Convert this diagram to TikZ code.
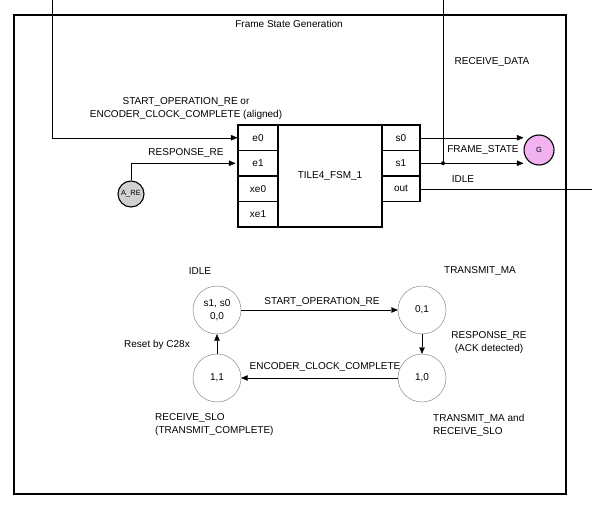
\documentclass[tikz,border=0pt]{standalone}
\usepackage{fontspec}
\setmainfont{Liberation Sans}
\usetikzlibrary{arrows.meta}

\begin{document}
\begin{tikzpicture}[x=1pt,y=-1pt,
  every node/.style={font=\fontsize{10}{13}\selectfont, inner sep=0pt},
  port/.style={draw, line width=1.1pt, minimum width=40pt, minimum height=25.5pt},
  state/.style={circle, draw=black!55, minimum size=48pt, align=center},
  sig/.style={circle, line width=1.1pt, draw, minimum size=#1, font=\fontsize{7.5}{8}\selectfont},
  arr/.style={-{Triangle[length=6.5pt,width=5.5pt]}}]
\useasboundingbox (0,0) rectangle (592,505);

% frame
\draw[line width=1.2pt] (14,15) rectangle (566,494);
\node (title) at (289,24) {Frame State Generation};

% block
\begin{scope}[every node/.style={port, font=\fontsize{10}{13}\selectfont}]
 \node (e0) at (258,137.75) {e0};
 \node (e1) at (258,163.25) {e1};
 \node (xe0) at (258,188.75) {xe0};
 \node (xe1) at (258,214.25) {xe1};
 \node[minimum width=38pt] (s0) at (401,137.75) {s0};
 \node[minimum width=38pt] (s1) at (401,163.25) {s1};
 \node[minimum width=38pt] (out) at (401,188.75) {out};
\end{scope}
\node[draw, line width=1.1pt, minimum width=104pt, minimum height=102pt] (fsm) at (330,176) {TILE4\_FSM\_1};

% inputs
\coordinate (start) at (52,0);
\draw[arr] (start) |- (e0.west);
\node[align=center] at (186,108.5) {START\_OPERATION\_RE or\\ENCODER\_CLOCK\_COMPLETE (aligned)};
\node[sig=26pt, fill=black!18] (are) at (131,194) {A\_RE};
\draw[arr, shorten >=2pt] (are.north) |- (e1.west);
\node at (186,153) {RESPONSE\_RE};

% outputs
\node[sig=30pt, fill=violet!35!magenta!30] (g) at (539,150) {G};
\draw[arr] (s0.east) -- (s0.east -| g.west);
\draw[arr] (s1.east) -- (s1.east -| g.west);
\coordinate (rdata) at (443,0);
\draw (rdata) -- (rdata |- s1.east);
\fill (rdata |- s1.east) circle (2pt);
\node at (492,62) {RECEIVE\_DATA};
\node at (483,150) {FRAME\_STATE};
\coordinate (idleout) at (592,188.75);
\draw (out.east) -- (idleout);
\node at (463,179) {IDLE};

% state machine
\node[state] (idle) at (217,310) {s1, s0\\0,0};
\node[state] (tma) at (422,310) {0,1};
\node[state] (both) at (422,378) {1,0};
\node[state] (rslo) at (217,378) {1,1};
\draw[arr] (idle) -- (tma);
\draw[arr] (tma) -- (both);
\draw[arr] (both) -- (rslo);
\draw[arr] (rslo) -- (idle);

\node at (200,271) {IDLE};
\node at (480,271) {TRANSMIT\_MA};
\node at (322,302) {START\_OPERATION\_RE};
\node[align=center] at (489,342.5) {RESPONSE\_RE\\(ACK detected)};
\node at (325,367) {ENCODER\_CLOCK\_COMPLETE};
\node at (157,345) {Reset by C28x};
\node[anchor=west, align=left] at (155,425) {RECEIVE\_SLO\\(TRANSMIT\_COMPLETE)};
\node[anchor=west, align=left] at (433,425) {TRANSMIT\_MA and\\RECEIVE\_SLO};

\end{tikzpicture}
\end{document}
